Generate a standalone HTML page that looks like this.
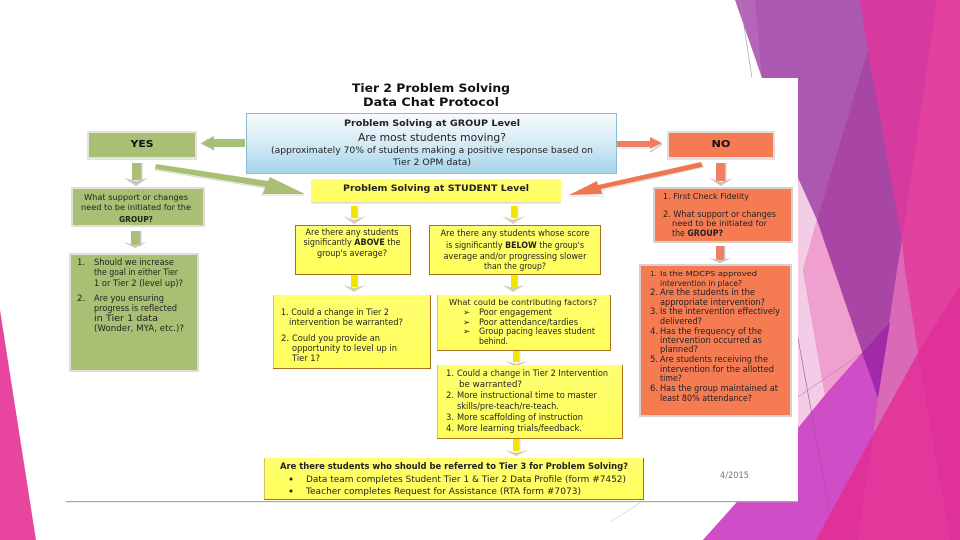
<!DOCTYPE html>
<html><head><meta charset="utf-8"><style>
html,body{margin:0;padding:0;background:#fff;width:960px;height:540px;overflow:hidden}
svg{display:block}
text{font-family:"DejaVu Sans","Liberation Sans",sans-serif;font-size:8.5px;fill:#222;filter:blur(.3px)}
.b{font-weight:bold;fill:#111}
.c{text-anchor:middle}
</style></head><body>
<svg width="960" height="540" viewBox="0 0 960 540" xmlns="http://www.w3.org/2000/svg">
<defs>
<linearGradient id="bl" x1="0" y1="0" x2="0" y2="1"><stop offset="0" stop-color="#f7fbfd"/><stop offset=".45" stop-color="#d8edf6"/><stop offset="1" stop-color="#a6d4ea"/></linearGradient>
<linearGradient id="ye" x1="0" y1="0" x2="0" y2="1"><stop offset="0" stop-color="#ffff70"/><stop offset="1" stop-color="#ffff5c"/></linearGradient>
</defs>
<!-- background -->
<rect width="960" height="540" fill="#fff"/>
<polygon points="0,310 36,540 0,540" fill="#E8459E"/>
<polygon points="798,178 860,0 960,0 960,540 703,540 737,502 798,428" fill="#E2419F"/>
<polygon points="735,0 755,0 775,110 762,78" fill="#B565B8"/>
<polygon points="755,0 860,0 868,50 817,220 798,178 762,78" fill="#AD58B0"/>
<polygon points="860,0 937,0 902,240 868,50" fill="#D63A9E"/>
<polygon points="798,178 817,220 803,270 825,395 798,428" fill="#F3CDE5"/>
<polygon points="817,220 878,398 862,353 825,395 803,270" fill="#EFA0CF"/>
<polygon points="868,50 902,240 897,270 890,322 878,398 817,220" fill="#A845A5"/>
<polygon points="897,270 902,240 905,270 918,353 873,435 878,398" fill="#DA69B8"/>
<polygon points="862,353 890,322 878,398" fill="#A02AA8"/>
<polygon points="798,428 862,353 878,398 873,435 816,540 703,540 737,502" fill="#CF4EC8"/>
<polygon points="960,285 960,540 816,540 873,435 918,353" fill="#E0309A"/>
<polygon points="858,540 873,435 918,353 950,540" fill="#E2389B"/>
<polyline points="740,0 752,78" stroke="#999" stroke-width=".6" fill="none"/>
<polyline points="798,338 830,515" stroke="#a050a8" stroke-width=".6" fill="none"/>
<polyline points="798,397 862,353" stroke="#c080b8" stroke-width=".6" fill="none"/>
<polyline points="640,503 610,522" stroke="#ccc" stroke-width=".6" fill="none"/>
<!-- white picture -->
<rect x="66" y="78" width="732" height="424" fill="#fff"/>
<rect x="66" y="501" width="732" height="1.2" fill="#a4a8b4"/>

<!-- arrows -->
<g>
<rect x="207" y="139" width="38" height="8" fill="#A9BF73"/>
<polygon points="214,136 201,143 214,150" fill="#A9BF73"/>
<polyline points="214,150 201,143" stroke="#bbb" stroke-width="1.2" fill="none"/>
<rect x="132" y="163" width="9" height="17" fill="#A9BF73"/><rect x="141" y="163" width="1.5" height="17" fill="#ccc"/>
<polygon points="124,178 136,186 148,178 136,181" fill="#c8c8c0"/>
<polygon points="156,164 268,181 270,177 305,194 262,194 265,187 155,169" fill="#A9BF73"/>
<polyline points="155,170 265,188 262,195 304,195" stroke="#d8d8d0" stroke-width="1" fill="none"/>
<rect x="131" y="231" width="9" height="15" fill="#A9BF73"/><rect x="140" y="231" width="1.5" height="15" fill="#ccc"/>
<polygon points="123,242 135,248 147,242 135,245" fill="#c8c8c0"/>
<rect x="351" y="206" width="6" height="12" fill="#f2e500"/><rect x="357" y="206" width="1.5" height="12" fill="#ddd"/>
<polygon points="343,216 354,224 366,216 354,220" fill="#d4d0a8"/>
<rect x="351" y="274" width="6" height="13" fill="#f2e500"/><rect x="357" y="274" width="1.5" height="13" fill="#ddd"/>
<polygon points="343,285 354,292 366,285 354,288" fill="#d4d0a8"/>
<rect x="511" y="206" width="6" height="12" fill="#f2e500"/><rect x="517" y="206" width="1.5" height="12" fill="#ddd"/>
<polygon points="502,216 513,224 525,216 513,220" fill="#d4d0a8"/>
<rect x="511" y="275" width="6" height="13" fill="#f2e500"/><rect x="517" y="275" width="1.5" height="13" fill="#ddd"/>
<polygon points="502,285 513,292 525,285 513,288" fill="#d4d0a8"/>
<rect x="513" y="351" width="6" height="11" fill="#f2e500"/><rect x="519" y="351" width="1.5" height="11" fill="#ddd"/>
<polygon points="505,361 516,367 528,361 516,364" fill="#d4c8a0"/>
<rect x="513" y="439" width="6" height="12" fill="#f2e500"/><rect x="519" y="439" width="1.5" height="12" fill="#ddd"/>
<polygon points="505,450 516,456 528,450 516,453" fill="#d4c8a0"/>
<rect x="617" y="141" width="34" height="6" fill="#EE7F63"/>
<polygon points="650,137 662,143 650,149" fill="#EE7F63"/>
<polyline points="650,152 662,144" stroke="#bbb" stroke-width="1.2" fill="none"/>
<polyline points="618,148 650,148" stroke="#ddd" stroke-width="1" fill="none"/>
<polygon points="701,162 703,167 601,189 602,194 569,195 597,181 598,185" fill="#EE7651"/>
<polyline points="704,167 602,190 603,196 569,196" stroke="#ddd" stroke-width="1" fill="none"/>
<rect x="716" y="163" width="9" height="18" fill="#EE7F63"/><rect x="725" y="163" width="1.5" height="18" fill="#ccc"/>
<polygon points="709,178 721,186 733,178 721,182" fill="#c8c0b8"/>
<rect x="716" y="246" width="8" height="15" fill="#EE7F63"/><rect x="724" y="246" width="1.5" height="15" fill="#ccc"/>
<polygon points="708,258 720,263 732,258 720,260" fill="#c8c0b8"/>
</g>

<!-- title -->
<text class="b c" x="431" y="92" style="font-size:11.5px" textLength="158" lengthAdjust="spacingAndGlyphs">Tier 2 Problem Solving</text>
<text class="b c" x="431" y="106" style="font-size:11.5px" textLength="136" lengthAdjust="spacingAndGlyphs">Data Chat Protocol</text>

<!-- blue box -->
<rect x="246.500" y="113.500" width="370" height="60" fill="url(#bl)" stroke="#8dbbd3"/>
<text class="c" x="432" y="126" style="font-weight:600;font-size:9px" textLength="176" lengthAdjust="spacingAndGlyphs">Problem Solving at GROUP Level</text>
<text class="c" x="432" y="141" style="font-size:10.500px" textLength="148" lengthAdjust="spacingAndGlyphs">Are most students moving?</text>
<text class="c" x="432" y="153" textLength="322" lengthAdjust="spacingAndGlyphs">(approximately 70% of students making a positive response based on</text>
<text class="c" x="432" y="165" textLength="78" lengthAdjust="spacingAndGlyphs">Tier 2 OPM data)</text>

<!-- YES -->
<rect x="87" y="131" width="110" height="29" fill="#e4e4de"/>
<rect x="89" y="133" width="106" height="24" fill="#A9BF73"/>
<text class="b c" x="142" y="147" style="font-size:9.500px" textLength="23" lengthAdjust="spacingAndGlyphs">YES</text>

<!-- green 2 -->
<rect x="71" y="187" width="134" height="40" fill="#dfdfd8"/>
<rect x="73" y="189" width="130" height="36" fill="#A9BF73"/>
<text class="c" x="136" y="200" style="font-size:7.500px" textLength="104" lengthAdjust="spacingAndGlyphs">What support or changes</text>
<text class="c" x="136" y="210" style="font-size:8px" textLength="110" lengthAdjust="spacingAndGlyphs">need to be initiated  for the</text>
<text class="c" x="136" y="222" style="font-weight:600;font-size:7.500px" textLength="34" lengthAdjust="spacingAndGlyphs">GROUP?</text>

<!-- green 3 -->
<rect x="69" y="253" width="130" height="119" fill="#dfdfd8"/>
<rect x="71" y="255" width="126" height="115" fill="#A9BF73"/>
<text x="77" y="265">1.</text>
<text x="94" y="265" textLength="80" lengthAdjust="spacingAndGlyphs">Should we increase</text>
<text x="94" y="275" textLength="84" lengthAdjust="spacingAndGlyphs">the goal in either Tier</text>
<text x="94" y="286" textLength="89" lengthAdjust="spacingAndGlyphs">1 or Tier 2 (level up)?</text>
<text x="77" y="301">2.</text>
<text x="94" y="301" textLength="70" lengthAdjust="spacingAndGlyphs">Are you ensuring</text>
<text x="94" y="311" textLength="83" lengthAdjust="spacingAndGlyphs">progress is reflected</text>
<text x="94" y="321" textLength="64" lengthAdjust="spacingAndGlyphs">in Tier 1 data</text>
<text x="94" y="331" textLength="90" lengthAdjust="spacingAndGlyphs">(Wonder, MYA, etc.)?</text>

<!-- yellow student -->
<rect x="311" y="179" width="250" height="23" fill="url(#ye)"/>
<rect x="311" y="202" width="250" height="1.500" fill="#d8d8d0"/>
<text class="c" x="436" y="191" style="font-weight:600;font-size:9px" textLength="186" lengthAdjust="spacingAndGlyphs">Problem Solving at STUDENT Level</text>

<!-- Box A -->
<rect x="295.500" y="225.500" width="115" height="49" fill="url(#ye)" stroke="#a8701c"/>
<text class="c" x="352" y="235" textLength="93" lengthAdjust="spacingAndGlyphs">Are there any students</text>
<text class="c" x="352" y="245" textLength="97" lengthAdjust="spacingAndGlyphs">significantly  <tspan font-weight="bold">ABOVE</tspan> the</text>
<text class="c" x="352" y="256" textLength="70" lengthAdjust="spacingAndGlyphs">group's average?</text>

<!-- Box C -->
<rect x="429.500" y="225.500" width="171" height="49" fill="url(#ye)" stroke="#a8701c"/>
<text class="c" x="515" y="236" textLength="149" lengthAdjust="spacingAndGlyphs">Are there any students  whose score</text>
<text class="c" x="515" y="248" textLength="138" lengthAdjust="spacingAndGlyphs">is significantly  <tspan font-weight="bold">BELOW</tspan> the group's</text>
<text class="c" x="515" y="259" textLength="143" lengthAdjust="spacingAndGlyphs">average and/or progressing slower</text>
<text class="c" x="515" y="269" textLength="62" lengthAdjust="spacingAndGlyphs">than the group?</text>

<!-- Box B -->
<rect x="273" y="295" width="157" height="73" fill="url(#ye)"/>
<path d="M273,368.500H430.500V295" stroke="#a8701c" fill="none"/><path d="M273.500,368V295" stroke="#d8c060" fill="none"/>
<text x="281" y="315" textLength="108" lengthAdjust="spacingAndGlyphs">1. Could a change in Tier 2</text>
<text x="289" y="325" textLength="114" lengthAdjust="spacingAndGlyphs">intervention  be warranted?</text>
<text x="281" y="341">2.</text><text x="292" y="341" textLength="88" lengthAdjust="spacingAndGlyphs">Could you provide an</text>
<text x="292" y="351" textLength="105" lengthAdjust="spacingAndGlyphs">opportunity  to level up in</text>
<text x="292" y="361" textLength="28" lengthAdjust="spacingAndGlyphs">Tier 1?</text>

<!-- Box D -->
<rect x="437" y="295" width="173" height="55" fill="url(#ye)"/>
<path d="M437,350.500H610.500V295" stroke="#a8701c" fill="none"/><path d="M437.500,350V295" stroke="#d8c060" fill="none"/>
<text x="449" y="305" style="font-size:7.500px" textLength="148" lengthAdjust="spacingAndGlyphs">What could be contributing  factors?</text>
<text x="463" y="315">➢</text><text x="479" y="315" textLength="73" lengthAdjust="spacingAndGlyphs">Poor engagement</text>
<text x="463" y="325">➢</text><text x="479" y="325" textLength="99" lengthAdjust="spacingAndGlyphs">Poor attendance/tardies</text>
<text x="463" y="334">➢</text><text x="479" y="334" textLength="116" lengthAdjust="spacingAndGlyphs">Group pacing  leaves student</text>
<text x="479" y="344" textLength="29" lengthAdjust="spacingAndGlyphs">behind.</text>

<!-- Box E -->
<rect x="437" y="365" width="185" height="73" fill="url(#ye)"/>
<path d="M437,438.500H622.500V365" stroke="#b0701c" fill="none"/><path d="M437.500,438V365" stroke="#d8c060" fill="none"/>
<text x="446" y="376">1.</text><text x="457" y="376" textLength="151" lengthAdjust="spacingAndGlyphs">Could  a change in Tier 2 Intervention</text>
<text x="459" y="387" textLength="63" lengthAdjust="spacingAndGlyphs">be warranted?</text>
<text x="446" y="398">2.</text><text x="457" y="398" textLength="140" lengthAdjust="spacingAndGlyphs">More instructional  time to master</text>
<text x="457" y="409" textLength="102" lengthAdjust="spacingAndGlyphs">skills/pre-teach/re-teach.</text>
<text x="446" y="420">3.</text><text x="457" y="420" textLength="126" lengthAdjust="spacingAndGlyphs">More scaffolding  of instruction</text>
<text x="446" y="431">4.</text><text x="457" y="431" textLength="125" lengthAdjust="spacingAndGlyphs">More learning  trials/feedback.</text>

<!-- Box F -->
<rect x="264" y="458" width="379" height="41" fill="url(#ye)"/>
<path d="M264,499.500H643.500V458" stroke="#a8701c" fill="none"/><path d="M264.500,499V458" stroke="#d8c060" fill="none"/>
<text x="280" y="469" style="font-weight:600;font-size:8.500px" textLength="348" lengthAdjust="spacingAndGlyphs">Are there students who should be referred to Tier 3 for Problem Solving?</text>
<circle cx="291" cy="479" r="1.500" fill="#222"/>
<text x="306" y="482" textLength="320" lengthAdjust="spacingAndGlyphs">Data team completes Student Tier 1 &amp; Tier 2 Data Profile (form #7452)</text>
<circle cx="291" cy="491" r="1.500" fill="#222"/>
<text x="306" y="494" textLength="275" lengthAdjust="spacingAndGlyphs">Teacher completes Request for Assistance (RTA form #7073)</text>

<!-- NO -->
<rect x="667" y="131" width="108" height="29" fill="#e4dfdc"/>
<rect x="669" y="133" width="104" height="24" fill="#F47B52"/>
<text class="b c" x="721" y="147" style="font-size:9.500px" textLength="19" lengthAdjust="spacingAndGlyphs">NO</text>

<!-- orange 2 -->
<rect x="653" y="187" width="140" height="56" fill="#d8d0cc"/>
<rect x="655" y="189" width="136" height="52" fill="#F47B52"/>
<text x="663" y="199" style="font-size:7.500px" textLength="86" lengthAdjust="spacingAndGlyphs">1. First Check  Fidelity</text>
<text x="663" y="217" textLength="113" lengthAdjust="spacingAndGlyphs">2. What support  or changes</text>
<text x="672" y="226" style="font-size:7.500px" textLength="95" lengthAdjust="spacingAndGlyphs">need to  be initiated  for</text>
<text x="672" y="236" textLength="51" lengthAdjust="spacingAndGlyphs">the <tspan font-weight="bold">GROUP?</tspan></text>

<!-- orange 3 -->
<rect x="639" y="264" width="153" height="153" fill="#d8d0cc"/>
<rect x="641" y="266" width="149" height="149" fill="#F47B52"/>
<g>
<text x="650" y="276" style="font-size:7px">1.</text><text x="660" y="276" style="font-size:7px" textLength="97" lengthAdjust="spacingAndGlyphs">Is the MDCPS approved</text>
<text x="660" y="286" style="font-size:7.500px" textLength="82" lengthAdjust="spacingAndGlyphs">intervention in place?</text>
<text x="650" y="295">2.</text><text x="660" y="295" textLength="95" lengthAdjust="spacingAndGlyphs">Are the students  in the</text>
<text x="660" y="305" textLength="105" lengthAdjust="spacingAndGlyphs">appropriate intervention?</text>
<text x="650" y="314">3.</text><text x="660" y="314" textLength="120" lengthAdjust="spacingAndGlyphs">Is the intervention  effectively</text>
<text x="660" y="324" textLength="42" lengthAdjust="spacingAndGlyphs">delivered?</text>
<text x="650" y="334">4.</text><text x="660" y="334" textLength="102" lengthAdjust="spacingAndGlyphs">Has the frequency of the</text>
<text x="660" y="343" textLength="102" lengthAdjust="spacingAndGlyphs">intervention occurred as</text>
<text x="660" y="352" textLength="38" lengthAdjust="spacingAndGlyphs">planned?</text>
<text x="650" y="362">5.</text><text x="660" y="362" textLength="108" lengthAdjust="spacingAndGlyphs">Are students  receiving the</text>
<text x="660" y="372" textLength="114" lengthAdjust="spacingAndGlyphs">intervention  for the allotted</text>
<text x="660" y="381" textLength="22" lengthAdjust="spacingAndGlyphs">time?</text>
<text x="650" y="391">6.</text><text x="660" y="391" textLength="118" lengthAdjust="spacingAndGlyphs">Has the group maintained  at</text>
<text x="660" y="401" textLength="92" lengthAdjust="spacingAndGlyphs">least 80% attendance?</text>
</g>
<text x="720" y="478" style="fill:#777" textLength="29" lengthAdjust="spacingAndGlyphs">4/2015</text>
</svg>
</body></html>
